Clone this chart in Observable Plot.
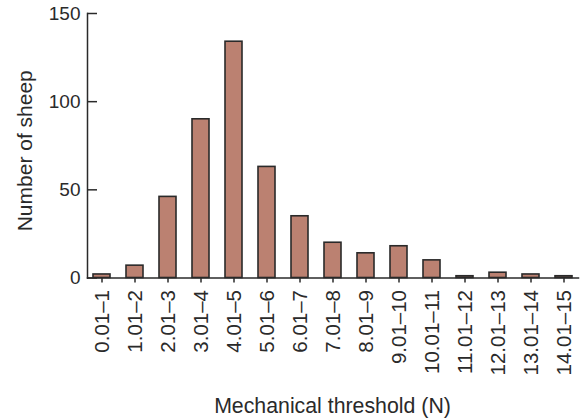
<!DOCTYPE html>
<html>
<head>
<meta charset="utf-8">
<script src="https://cdn.jsdelivr.net/npm/d3@7"></script>
<script src="https://cdn.jsdelivr.net/npm/@observablehq/plot@0.6"></script>
<style>
  body { margin: 0; background: #fff; }
  #chart { width: 582px; }
  #chart svg { display: block; }
  .x-title {
    box-sizing: border-box;
    width: 582px;
    padding: 0 4px 0 87px;
    text-align: center;
    font-family: 'Liberation Sans', Arial, Helvetica, sans-serif;
    font-size: 21.3px;
    line-height: 24px;
    color: #2a2a2a;
  }
</style>
</head>
<body>
<div id="chart"></div>
<script>
// Mechanical threshold bins (N) and number of sheep in each bin
const ranges = ["0.01–1", "1.01–2", "2.01–3", "3.01–4", "4.01–5", "5.01–6", "6.01–7", "7.01–8",
                "8.01–9", "9.01–10", "10.01–11", "11.01–12", "12.01–13", "13.01–14", "14.01–15"];
const sheep = [2, 7, 46, 90, 134, 63, 35, 20, 14, 18, 10, 1, 3, 2, 1];
const yTicks = [0, 50, 100, 150];
const xTitle = "Mechanical threshold (N)";
const yTitle = "Number of sheep";

const table = ranges.map((r, i) => ({range: r, count: sheep[i]}));
const ink = "#2a2a2a";

const chart = Plot.plot({
  width: 582,
  height: 394,
  marginLeft: 87,
  marginRight: 4,
  marginTop: 13,
  marginBottom: 116.5,
  style: {fontFamily: "'Liberation Sans', Arial, Helvetica, sans-serif", color: ink, background: "#fff"},
  x: {domain: ranges, paddingInner: 0.5, paddingOuter: 0.1},
  y: {domain: [0, 150]},
  marks: [
    Plot.barY(table, {x: "range", y: "count", fill: "#bb8171", stroke: ink, strokeWidth: 1.6}),
    Plot.frame({anchor: "left", stroke: ink, strokeWidth: 1.5}),
    Plot.frame({anchor: "bottom", stroke: ink, strokeWidth: 1.5}),
    Plot.axisX({tickSize: 5, tickPadding: 7, tickRotate: -90, fontSize: 20.5, label: null, stroke: ink, strokeWidth: 1.5}),
    Plot.axisY({ticks: yTicks, tickSize: 0, tickPadding: 7, fontSize: 19, label: null}),
    // inward-pointing y ticks
    Plot.ruleY(yTicks, {insetRight: 481, stroke: ink, strokeWidth: 1.5}),
    Plot.text([yTitle], {frameAnchor: "left", dx: -62, dy: 5, textAnchor: "middle", lineAnchor: "middle", rotate: -90, fontSize: 21, fill: ink})
  ]
});

const root = document.getElementById("chart");
root.append(chart);
const title = document.createElement("div");
title.className = "x-title";
title.textContent = xTitle;
root.append(title);
</script>
</body>
</html>
